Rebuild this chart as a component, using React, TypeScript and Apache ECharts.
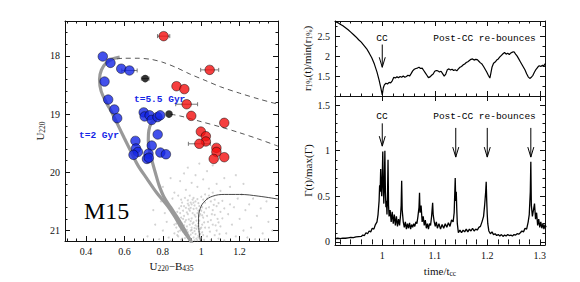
import React, { useEffect, useRef } from "react";
import * as echarts from "echarts";

// ---------------- Left panel (CMD of M15) ----------------
const cmdXTicks = [0.4, 0.6, 0.8, 1, 1.2];
const cmdYTicks = [18, 19, 20, 21];

const bluePoints: [number, number][] = [
  [0.487, 18.01], [0.527, 18.12], [0.583, 18.22], [0.626, 18.25], [0.496, 18.44],
  [0.515, 18.75], [0.547, 18.92], [0.562, 19.07], [0.70, 18.97], [0.705, 19.04],
  [0.731, 19.02], [0.742, 19.10], [0.772, 19.05], [0.786, 19.02], [0.773, 19.35],
  [0.657, 19.46], [0.66, 19.59], [0.67, 19.65], [0.647, 19.70], [0.742, 19.54],
  [0.725, 19.68], [0.717, 19.77], [0.727, 19.75], [0.787, 19.66], [0.816, 19.69],
];
const redPoints: [number, number][] = [
  [0.804, 17.66], [1.044, 18.24], [0.871, 18.52], [0.912, 18.57], [0.924, 18.83],
  [0.948, 19.03], [1.12, 19.15], [0.998, 19.30], [1.024, 19.38], [1.024, 19.47],
  [0.99, 19.51], [1.079, 19.58], [1.079, 19.65], [1.065, 19.77], [1.12, 19.74],
];
const blackPoints: [number, number][] = [[0.708, 18.39], [0.832, 19.0]];
// [colour, magnitude, half-width of error]
const errorBars: [number, number, number][] = [
  [0.804, 17.66, 0.032], [1.044, 18.24, 0.047], [0.626, 18.25, 0.04],
  [0.708, 18.39, 0.02], [0.924, 18.83, 0.057], [0.99, 19.51, 0.057],
];
const iso2Gyr: [number, number][] = [
  [0.575, 18.02], [0.54, 18.05], [0.505, 18.12], [0.48, 18.24], [0.47, 18.4],
  [0.478, 18.6], [0.505, 18.8], [0.535, 18.98], [0.565, 19.18], [0.6, 19.42],
  [0.635, 19.65], [0.67, 19.88], [0.715, 20.1], [0.77, 20.36], [0.825, 20.58],
  [0.86, 20.75], [0.9, 20.97], [0.945, 21.18], [0.955, 21.25],
];
const iso55Gyr: [number, number][] = [
  [0.79, 19.06], [0.765, 19.08], [0.74, 19.15], [0.727, 19.28], [0.724, 19.45],
  [0.73, 19.62], [0.745, 19.82], [0.762, 20.02], [0.78, 20.22], [0.805, 20.42],
  [0.84, 20.6], [0.88, 20.8], [0.915, 21.0], [0.945, 21.18], [0.955, 21.25],
];
const dashedUpper: [number, number][] = [
  [0.56, 18.05], [0.6, 18.04], [0.67, 18.04], [0.74, 18.06], [0.8, 18.11],
  [0.87, 18.2], [0.94, 18.31], [1.02, 18.42], [1.1, 18.53], [1.2, 18.64],
  [1.3, 18.74], [1.4, 18.83],
];
const dashedLower: [number, number][] = [
  [0.84, 19.0], [0.9, 19.04], [1.0, 19.13], [1.1, 19.22], [1.2, 19.32],
  [1.3, 19.43], [1.4, 19.55],
];
const thinIsochrone: [number, number][] = [
  [1.0, 21.25], [0.988, 21.0], [0.986, 20.8], [0.995, 20.62], [1.02, 20.49],
  [1.06, 20.41], [1.12, 20.38], [1.2, 20.38], [1.3, 20.41], [1.4, 20.46],
];
const cloud: [number, number][] = [
  [0.90, 20.52], [0.93, 20.48], [0.95, 20.55], [0.97, 20.50], [0.99, 20.58], [0.92, 20.61],
  [0.94, 20.66], [0.96, 20.63], [0.98, 20.70], [1.00, 20.66], [0.89, 20.70], [0.91, 20.75],
  [0.93, 20.72], [0.95, 20.79], [0.97, 20.76], [0.99, 20.83], [1.01, 20.78], [0.88, 20.85],
  [0.90, 20.88], [0.92, 20.82], [0.94, 20.90], [0.96, 20.86], [0.98, 20.93], [1.00, 20.95],
  [0.87, 20.95], [0.89, 21.00], [0.91, 20.97], [0.93, 21.03], [0.95, 20.99], [0.97, 21.06],
  [0.99, 21.02], [1.01, 21.08], [0.88, 21.10], [0.90, 21.14], [0.92, 21.08], [0.94, 21.15],
  [0.96, 21.12], [0.98, 21.17], [1.00, 21.13], [0.91, 20.58], [0.935, 20.57], [0.955, 20.70],
  [0.975, 20.62], [0.995, 20.72], [0.905, 20.80], [0.925, 20.93], [0.945, 20.84], [0.965, 20.96],
  [0.985, 20.88], [1.005, 20.90], [0.915, 21.06], [0.935, 21.10], [0.955, 21.04], [0.975, 21.14],
  [0.86, 21.05], [0.87, 20.78], [0.885, 20.62], [0.96, 20.44], [0.94, 20.40], [1.02, 20.52],
  [1.03, 20.45], [1.05, 20.50], [1.07, 20.47], [1.09, 20.53], [1.11, 20.49], [1.04, 20.60],
  [1.06, 20.65], [1.08, 20.58], [1.10, 20.68], [1.12, 20.62], [1.03, 20.75], [1.05, 20.82],
  [1.07, 20.73], [1.09, 20.86], [1.11, 20.79], [1.04, 20.95], [1.06, 20.90], [1.08, 21.00],
  [1.10, 20.93], [1.13, 21.05], [1.03, 21.10], [1.05, 21.16], [1.07, 21.08], [1.09, 21.14],
  [1.12, 21.17], [1.14, 20.72], [1.15, 20.55], [1.02, 20.38], [1.06, 20.35], [1.00, 20.42],
  [1.17, 20.60], [1.20, 20.80], [1.23, 20.65], [1.26, 20.95], [1.29, 20.75], [1.32, 21.05],
  [1.35, 20.85], [1.18, 21.10], [1.22, 21.00], [1.25, 20.55], [1.28, 21.15], [1.31, 20.62],
  [1.34, 20.50], [1.37, 21.00], [1.19, 20.45], [1.21, 20.38], [1.16, 20.90], [1.27, 20.45],
  [1.33, 21.15], [1.24, 21.12], [0.92, 20.30], [0.98, 20.25], [1.04, 20.28], [0.95, 20.18],
  [1.01, 20.12], [1.08, 20.20], [0.89, 20.15], [0.97, 20.05], [1.03, 19.98], [1.12, 20.10],
  [0.93, 19.92], [1.06, 19.88], [1.15, 20.25], [0.86, 20.35], [1.10, 20.32], [0.99, 19.85],
  [1.18, 20.05], [0.84, 20.10], [1.22, 20.20], [0.91, 20.02], [0.84, 20.60], [0.82, 20.85],
  [0.80, 21.00], [0.85, 20.45], [0.83, 21.12], [0.78, 21.15], [0.81, 20.70], [0.86, 20.90],
  [0.79, 20.50], [0.76, 20.90], [0.84, 21.18], [0.72, 21.10], [0.88, 20.40], [0.80, 20.25],
  [0.75, 20.65], [0.895, 20.47], [0.915, 20.44], [0.945, 20.52], [0.965, 20.57], [0.985, 20.53],
  [1.005, 20.60], [1.015, 20.69], [0.905, 20.66], [0.925, 20.69], [0.945, 20.61], [0.965, 20.73],
  [0.985, 20.66], [1.005, 20.74], [0.895, 20.78], [0.915, 20.85], [0.935, 20.81], [0.955, 20.88],
  [0.975, 20.83], [0.995, 20.97], [1.015, 20.86], [0.885, 20.92], [0.905, 21.02], [0.925, 20.99],
  [0.945, 21.07], [0.965, 21.01], [0.985, 21.09], [1.005, 21.03], [0.875, 21.08], [0.895, 21.16],
  [0.915, 21.13], [0.945, 21.00], [0.965, 21.17], [0.985, 21.12], [1.015, 21.16], [0.93, 20.54],
  [0.96, 20.52], [0.98, 20.46], [0.91, 20.91], [0.95, 20.95], [0.97, 20.91], [0.99, 20.75],
  [1.02, 20.95], [1.025, 20.62], [1.035, 20.85], [1.045, 21.02], [1.055, 20.72], [1.065, 20.56],
  [1.075, 20.91], [1.085, 20.80], [1.095, 21.06], [0.87, 20.88], [0.875, 20.68], [0.88, 21.02],
  [0.895, 20.58], [0.935, 20.63], [0.955, 20.47], [0.975, 20.97], [0.995, 21.06], [1.01, 20.47],
  [1.04, 20.40],
];

// ---------------- Right panels (time evolution) ----------------
const timeTicks = [1, 1.1, 1.2, 1.3];
const radiusTicks = [1.5, 2, 2.5];
const gammaTicks = [0, 0.5, 1, 1.5];

const radiusSeries: [number, number][] = [
  [0.910, 2.87], [0.915, 2.84], [0.920, 2.80], [0.925, 2.76], [0.930, 2.71], [0.935, 2.66],
  [0.940, 2.60], [0.945, 2.54], [0.950, 2.48], [0.955, 2.41], [0.960, 2.35], [0.965, 2.27],
  [0.970, 2.19], [0.975, 2.08], [0.980, 1.96], [0.985, 1.80], [0.990, 1.60], [0.994, 1.40],
  [0.997, 1.22], [1.000, 1.03], [1.002, 1.20], [1.004, 1.28], [1.007, 1.32], [1.010, 1.30],
  [1.013, 1.34], [1.016, 1.33], [1.019, 1.38], [1.022, 1.47], [1.025, 1.45], [1.028, 1.48],
  [1.031, 1.46], [1.034, 1.49], [1.037, 1.47], [1.040, 1.50], [1.043, 1.47], [1.046, 1.49],
  [1.049, 1.52], [1.052, 1.50], [1.055, 1.56], [1.058, 1.63], [1.061, 1.67], [1.064, 1.69],
  [1.067, 1.70], [1.070, 1.72], [1.073, 1.69], [1.076, 1.70], [1.079, 1.64], [1.082, 1.58],
  [1.085, 1.52], [1.088, 1.46], [1.091, 1.48], [1.094, 1.52], [1.097, 1.55], [1.100, 1.62],
  [1.103, 1.64], [1.106, 1.63], [1.109, 1.60], [1.112, 1.62], [1.115, 1.56], [1.118, 1.50],
  [1.121, 1.55], [1.124, 1.66], [1.127, 1.68], [1.130, 1.65], [1.133, 1.67], [1.136, 1.64],
  [1.139, 1.66], [1.142, 1.63], [1.145, 1.68], [1.148, 1.72], [1.151, 1.74], [1.154, 1.78],
  [1.157, 1.80], [1.160, 1.84], [1.163, 1.86], [1.166, 1.89], [1.169, 1.92], [1.172, 1.93],
  [1.175, 1.90], [1.178, 1.92], [1.181, 1.91], [1.184, 1.87], [1.187, 1.83], [1.190, 1.80],
  [1.193, 1.74], [1.196, 1.67], [1.199, 1.60], [1.202, 1.52], [1.205, 1.45], [1.207, 1.58],
  [1.209, 1.72], [1.212, 1.82], [1.215, 1.85], [1.218, 1.90], [1.221, 1.93], [1.224, 1.98],
  [1.227, 2.02], [1.230, 2.06], [1.233, 2.09], [1.236, 2.05], [1.239, 2.07], [1.242, 2.04],
  [1.245, 2.08], [1.248, 2.10], [1.251, 2.11], [1.254, 2.05], [1.257, 2.00], [1.260, 1.93],
  [1.263, 1.86], [1.266, 1.79], [1.269, 1.72], [1.272, 1.65], [1.275, 1.56], [1.278, 1.48],
  [1.281, 1.44], [1.284, 1.47], [1.287, 1.52], [1.290, 1.60], [1.293, 1.67], [1.296, 1.72],
  [1.299, 1.76], [1.302, 1.74], [1.305, 1.77], [1.308, 1.76], [1.311, 1.82],
];

const gammaSeries: [number, number][] = [
  [0.910, 0.035], [0.915, 0.04], [0.920, 0.035], [0.925, 0.042], [0.930, 0.04], [0.935, 0.045],
  [0.940, 0.05], [0.945, 0.048], [0.950, 0.055], [0.955, 0.058], [0.960, 0.06], [0.963, 0.075],
  [0.966, 0.07], [0.969, 0.10], [0.972, 0.09], [0.975, 0.12], [0.978, 0.11], [0.981, 0.15],
  [0.984, 0.14], [0.987, 0.19], [0.990, 0.22], [0.992, 0.30], [0.994, 0.45], [0.995, 0.62],
  [0.996, 0.55], [0.997, 0.80], [0.998, 0.62], [0.999, 0.50], [1.000, 0.70], [1.001, 0.99],
  [1.002, 0.60], [1.003, 0.42], [1.004, 0.65], [1.005, 1.0], [1.006, 0.55], [1.007, 0.38],
  [1.008, 0.45], [1.009, 0.30], [1.010, 0.50], [1.011, 0.90], [1.012, 0.40], [1.013, 0.28],
  [1.015, 0.35], [1.017, 0.22], [1.019, 0.33], [1.021, 0.20], [1.023, 0.30], [1.025, 0.18],
  [1.027, 0.28], [1.029, 0.17], [1.031, 0.25], [1.033, 0.18], [1.035, 0.30], [1.036, 0.40],
  [1.037, 0.67], [1.038, 0.35], [1.040, 0.22], [1.042, 0.16], [1.044, 0.22], [1.046, 0.14],
  [1.048, 0.20], [1.050, 0.15], [1.052, 0.21], [1.054, 0.14], [1.056, 0.19], [1.058, 0.16],
  [1.060, 0.20], [1.062, 0.17], [1.064, 0.22], [1.066, 0.20], [1.068, 0.28], [1.070, 0.38],
  [1.071, 0.54], [1.072, 0.32], [1.074, 0.40], [1.076, 0.22], [1.078, 0.28], [1.080, 0.18],
  [1.082, 0.24], [1.084, 0.15], [1.086, 0.20], [1.088, 0.14], [1.090, 0.20], [1.092, 0.18],
  [1.094, 0.28], [1.096, 0.43], [1.097, 0.30], [1.099, 0.22], [1.101, 0.17], [1.103, 0.22],
  [1.105, 0.15], [1.108, 0.20], [1.111, 0.14], [1.114, 0.19], [1.117, 0.15], [1.120, 0.20],
  [1.123, 0.16], [1.126, 0.21], [1.129, 0.17], [1.132, 0.24], [1.135, 0.22], [1.137, 0.32],
  [1.139, 0.70], [1.140, 0.45], [1.141, 0.55], [1.142, 0.35], [1.143, 0.20], [1.145, 0.10],
  [1.148, 0.13], [1.151, 0.10], [1.154, 0.13], [1.157, 0.11], [1.160, 0.14], [1.163, 0.11],
  [1.166, 0.14], [1.169, 0.12], [1.172, 0.15], [1.175, 0.12], [1.178, 0.14], [1.181, 0.13],
  [1.184, 0.16], [1.187, 0.17], [1.190, 0.22], [1.193, 0.28], [1.195, 0.40], [1.197, 0.55],
  [1.198, 0.66], [1.199, 0.45], [1.200, 0.30], [1.201, 0.20], [1.203, 0.12], [1.206, 0.09],
  [1.209, 0.11], [1.212, 0.08], [1.215, 0.09], [1.218, 0.07], [1.221, 0.08], [1.224, 0.065],
  [1.227, 0.08], [1.230, 0.06], [1.233, 0.075], [1.236, 0.065], [1.239, 0.08], [1.242, 0.07],
  [1.245, 0.075], [1.248, 0.065], [1.251, 0.08], [1.254, 0.075], [1.257, 0.09], [1.260, 0.085],
  [1.263, 0.10], [1.266, 0.12], [1.269, 0.11], [1.272, 0.15], [1.275, 0.14], [1.278, 0.22],
  [1.280, 0.30], [1.282, 0.55], [1.283, 0.88], [1.284, 0.40], [1.286, 0.28], [1.288, 0.35],
  [1.290, 0.42], [1.292, 0.25], [1.294, 0.32], [1.296, 0.18], [1.298, 0.25], [1.300, 0.16],
  [1.302, 0.22], [1.304, 0.15], [1.306, 0.20], [1.308, 0.14], [1.310, 0.19], [1.312, 0.16],
];

// arrows: [time, top of shaft, tip]
const radiusArrows: [number, number, number][] = [[1.0, 2.29, 1.72]];
const gammaArrows: [number, number, number][] = [
  [1.0, 1.30, 1.05], [1.14, 1.25, 0.93], [1.2, 1.25, 0.93], [1.283, 1.25, 0.93],
];

const SERIF = "'Liberation Serif', 'DejaVu Serif', serif";
const MONO = "'Liberation Mono', 'DejaVu Sans Mono', monospace";
const INK = "#111";

function steps(min: number, max: number, step: number): number[] {
  const out: number[] = [];
  const n = Math.round((max - min) / step);
  for (let i = 0; i <= n; i++) out.push(Math.round((min + i * step) * 10000) / 10000);
  return out;
}

function frameAxes(dim: "x" | "y", grid: number, min: number, max: number, majors: number[], minors: number[], opts: any) {
  const pos = dim === "x" ? ["bottom", "top"] : ["left", "right"];
  const common = { type: "value", gridIndex: grid, min, max, inverse: !!opts.inverse, splitLine: { show: false } };
  const line = { show: true, onZero: false, lineStyle: { color: INK, width: 1 } };
  const major = (l: number) => ({ show: true, inside: true, length: l, customValues: majors, lineStyle: { color: INK, width: 1 } });
  const minor = { show: true, inside: true, length: 2.5, customValues: minors, lineStyle: { color: INK, width: 1 } };
  return [
    {
      ...common, position: pos[0], axisLine: line, axisTick: major(5),
      axisLabel: {
        show: !!opts.labels, customValues: majors, color: INK, fontFamily: SERIF, fontSize: 10, margin: 5,
        formatter: (v: number) => String(v),
      },
      name: opts.name || "", nameLocation: "middle", nameGap: opts.nameGap || 20,
      nameRotate: dim === "y" ? 90 : 0,
      nameTextStyle: {
        color: INK, fontFamily: SERIF, fontSize: 11,
        rich: {
          n: { fontFamily: SERIF, fontSize: 11, color: INK },
          s: { fontFamily: SERIF, fontSize: 7.5, color: INK, padding: [5, 0, 0, 0] },
        },
      },
    },
    { ...common, position: pos[0], axisLine: { show: false }, axisTick: minor, axisLabel: { show: false } },
    { ...common, position: pos[1], axisLine: line, axisTick: major(5), axisLabel: { show: false } },
    { ...common, position: pos[1], axisLine: { show: false }, axisTick: minor, axisLabel: { show: false } },
  ];
}

function arrowRender(params: any, api: any) {
  const top = api.coord([api.value(0), api.value(1)]);
  const tip = api.coord([api.value(0), api.value(2)]);
  return {
    type: "group",
    children: [
      { type: "line", shape: { x1: top[0], y1: top[1], x2: tip[0], y2: tip[1] }, style: { stroke: "#000", lineWidth: 1 } },
      {
        type: "polyline",
        shape: { points: [[tip[0] - 3, tip[1] - 10], [tip[0], tip[1]], [tip[0] + 3, tip[1] - 10]] },
        style: { stroke: "#000", fill: "none", lineWidth: 1 },
      },
    ],
  };
}

function errRender(params: any, api: any) {
  const x = api.value(0), y = api.value(1), e = api.value(2);
  const l = api.coord([x - e, y]);
  const r = api.coord([x + e, y]);
  const st = { stroke: "#777", lineWidth: 1 };
  return {
    type: "group",
    children: [
      { type: "line", shape: { x1: l[0], y1: l[1], x2: r[0], y2: r[1] }, style: st },
      { type: "line", shape: { x1: l[0], y1: l[1] - 2, x2: l[0], y2: l[1] + 2 }, style: st },
      { type: "line", shape: { x1: r[0], y1: r[1] - 2, x2: r[0], y2: r[1] + 2 }, style: st },
    ],
  };
}

export default function App() {
  const ref = useRef<HTMLDivElement>(null);
  useEffect(() => {
    if (!ref.current) return;
    const chart = echarts.init(ref.current, null, { renderer: "svg" });

    const xAxes = [
      ...frameAxes("x", 0, 0.29, 1.4, cmdXTicks, steps(0.3, 1.4, 0.05), {
        labels: true, name: "{n|U}{s|220}{n|−B}{s|435}", nameGap: 17,
      }),
      ...frameAxes("x", 1, 0.91, 1.31, timeTicks, steps(0.92, 1.3, 0.02), { labels: false }),
      ...frameAxes("x", 2, 0.91, 1.31, timeTicks, steps(0.92, 1.3, 0.02), {
        labels: true, name: "{n|time/t}{s|cc}", nameGap: 15,
      }),
    ];
    const yAxes = [
      ...frameAxes("y", 0, 17.4, 21.18, cmdYTicks, steps(17.4, 21.0, 0.2), {
        labels: true, inverse: true, name: "{n|U}{s|220}", nameGap: 18,
      }),
      ...frameAxes("y", 1, 1.0, 2.88, radiusTicks, steps(1.25, 2.75, 0.25), {
        labels: true, name: "{n|r}{s|1%}{n|(t)/min(r}{s|1%}{n|)}", nameGap: 19,
      }),
      ...frameAxes("y", 2, -0.035, 1.6, gammaTicks, steps(0, 1.6, 0.1), {
        labels: true, name: "{n|Γ(t)/max(Γ)}", nameGap: 19,
      }),
    ];

    const option: any = {
      animation: false,
      backgroundColor: "#fff",
      grid: [
        { left: 65, top: 21, width: 213, height: 220 },
        { left: 335, top: 21, width: 210, height: 75 },
        { left: 335, top: 96, width: 210, height: 150 },
      ],
      xAxis: xAxes,
      yAxis: yAxes,
      series: [
        {
          type: "scatter", xAxisIndex: 0, yAxisIndex: 0, data: cloud, symbolSize: 2, silent: true, z: 1,
          itemStyle: { color: "rgba(160,160,160,0.6)" },
        },
        {
          type: "line", xAxisIndex: 0, yAxisIndex: 0, data: thinIsochrone, smooth: 0.4, showSymbol: false, z: 2,
          lineStyle: { color: "#333", width: 0.9 },
        },
        {
          type: "line", xAxisIndex: 0, yAxisIndex: 0, data: iso2Gyr, smooth: 0.3, showSymbol: false, z: 2,
          lineStyle: { color: "#999", width: 3.2 },
        },
        {
          type: "line", xAxisIndex: 0, yAxisIndex: 0, data: iso55Gyr, smooth: 0.3, showSymbol: false, z: 2,
          lineStyle: { color: "#999", width: 3.2 },
        },
        {
          type: "line", xAxisIndex: 0, yAxisIndex: 0, data: dashedUpper, smooth: 0.3, showSymbol: false, z: 2,
          lineStyle: { color: "#444", width: 0.9, type: [5, 4] },
        },
        {
          type: "line", xAxisIndex: 0, yAxisIndex: 0, data: dashedLower, smooth: 0.3, showSymbol: false, z: 2,
          lineStyle: { color: "#444", width: 0.9, type: [5, 4] },
        },
        {
          type: "custom", xAxisIndex: 0, yAxisIndex: 0, data: errorBars, renderItem: errRender, z: 3,
          encode: { x: 0, y: 1 }, silent: true,
        },
        {
          type: "scatter", xAxisIndex: 0, yAxisIndex: 0, data: bluePoints, symbolSize: 9.5, z: 5,
          itemStyle: { color: "#1426e6", borderColor: "#000", borderWidth: 0.6 },
        },
        {
          type: "scatter", xAxisIndex: 0, yAxisIndex: 0, data: redPoints, symbolSize: 9.5, z: 5,
          itemStyle: { color: "#f20f0f", borderColor: "#000", borderWidth: 0.6 },
        },
        {
          type: "scatter", xAxisIndex: 0, yAxisIndex: 0, data: blackPoints, symbolSize: 7.5, z: 5,
          itemStyle: { color: "#000" },
        },
        {
          type: "line", xAxisIndex: 4, yAxisIndex: 4, data: radiusSeries, showSymbol: false,
          lineStyle: { color: "#000", width: 1.2 },
        },
        {
          type: "custom", xAxisIndex: 4, yAxisIndex: 4, data: radiusArrows, renderItem: arrowRender,
          encode: { x: 0, y: [1, 2] }, silent: true,
        },
        {
          type: "line", xAxisIndex: 8, yAxisIndex: 8, data: gammaSeries, showSymbol: false,
          lineStyle: { color: "#000", width: 1.3 },
        },
        {
          type: "custom", xAxisIndex: 8, yAxisIndex: 8, data: gammaArrows, renderItem: arrowRender,
          encode: { x: 0, y: [1, 2] }, silent: true,
        },
      ],
      graphic: [
        {
          type: "text", left: 134, top: 94, z: 10,
          style: { text: "t=5.5 Gyr", fill: "#1426e6", font: `bold 9.5px ${MONO}` },
        },
        {
          type: "text", left: 79, top: 130, z: 10,
          style: { text: "t=2 Gyr", fill: "#1426e6", font: `bold 9.5px ${MONO}` },
        },
        {
          type: "text", left: 84, top: 199, z: 10,
          style: { text: "M15", fill: "#000", font: `24px ${SERIF}` },
        },
        {
          type: "text", x: 382, y: 38, z: 10,
          style: { text: "CC", fill: "#000", font: `9.5px ${MONO}`, align: "center", verticalAlign: "middle" },
        },
        {
          type: "text", x: 484.5, y: 38, z: 10,
          style: { text: "Post-CC re-bounces", fill: "#000", font: `9.5px ${MONO}`, align: "center", verticalAlign: "middle" },
        },
        {
          type: "text", x: 382, y: 116, z: 10,
          style: { text: "CC", fill: "#000", font: `9.5px ${MONO}`, align: "center", verticalAlign: "middle" },
        },
        {
          type: "text", x: 484.5, y: 116, z: 10,
          style: { text: "Post-CC re-bounces", fill: "#000", font: `9.5px ${MONO}`, align: "center", verticalAlign: "middle" },
        },
      ],
    };
    chart.setOption(option);
    return () => chart.dispose();
  }, []);

  return (
    <div
      ref={ref}
      style={{ position: "fixed", left: 0, top: 0, width: 580, height: 282, background: "#fff" }}
    />
  );
}
